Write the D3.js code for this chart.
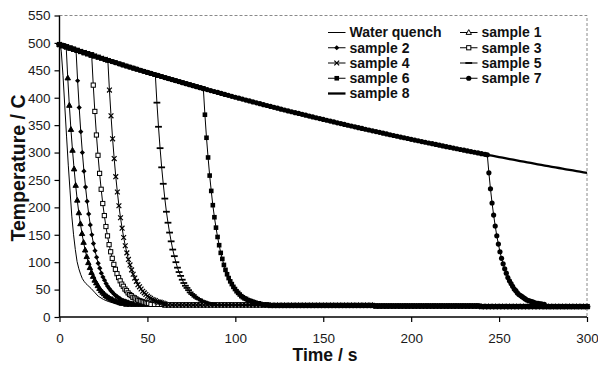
<!DOCTYPE html>
<html>
<head>
<meta charset="utf-8">
<script src="https://cdn.jsdelivr.net/npm/d3@7"></script>
<style>
  html, body { margin: 0; padding: 0; background: #fff; }
  svg { display: block; font-family: "Liberation Sans", Arial, Helvetica, sans-serif; }
</style>
</head>
<body>
<svg id="chart" width="598" height="367"></svg>
<script>
// ---- data -------------------------------------------------------------
const seriesNames = ["Water quench", "sample 1", "sample 2", "sample 3", "sample 4",
                     "sample 5", "sample 6", "sample 7", "sample 8"];
const xTicks = [0, 50, 100, 150, 200, 250, 300];
const yTicks = [0, 50, 100, 150, 200, 250, 300, 350, 400, 450, 500, 550];

// slow air cooling before quench, logged every 2 s from t = 0 to 300 s (C)
const airStep = 2;
const airCoolTemp = [
  497.0, 494.9, 492.8, 490.6, 488.5, 486.4, 484.3, 482.2, 480.2, 478.1,
  476.0, 474.0, 472.0, 469.9, 467.9, 465.9, 463.9, 461.9, 459.9, 457.9,
  455.9, 454.0, 452.0, 450.1, 448.1, 446.2, 444.3, 442.4, 440.6, 438.7,
  436.8, 434.9, 433.1, 431.2, 429.4, 427.5, 425.7, 423.9, 422.0, 420.2,
  418.4, 416.6, 414.9, 413.1, 411.4, 409.6, 407.9, 406.1, 404.4, 402.6,
  400.9, 399.2, 397.5, 395.8, 394.1, 392.4, 390.7, 389.1, 387.4, 385.8,
  384.1, 382.5, 380.9, 379.2, 377.6, 376.0, 374.4, 372.8, 371.3, 369.7,
  368.1, 366.6, 365.0, 363.5, 361.9, 360.4, 358.9, 357.4, 355.8, 354.3,
  352.8, 351.3, 349.8, 348.4, 346.9, 345.4, 344.0, 342.5, 341.1, 339.6,
  338.2, 336.8, 335.4, 333.9, 332.5, 331.1, 329.7, 328.3, 327.0, 325.6,
  324.2, 322.8, 321.5, 320.1, 318.8, 317.4, 316.1, 314.8, 313.4, 312.1,
  310.8, 309.5, 308.2, 306.9, 305.6, 304.3, 303.0, 301.8, 300.5, 299.3,
  298.0, 296.8, 295.5, 294.3, 293.0, 291.8, 290.6, 289.4, 288.1, 286.9,
  285.7, 284.5, 283.3, 282.2, 281.0, 279.8, 278.6, 277.5, 276.3, 275.2,
  274.0, 272.9, 271.8, 270.6, 269.5, 268.4, 267.3, 266.2, 265.1, 264.0,
  262.9
];

// bath temperature once quenched, logged every 2 s from t = 38 s to 300 s (C)
const bathStart = 38;
const bathTemp = [
  23, 23, 23, 23, 23, 23, 23, 23, 23, 23, 23,
  22, 22, 22, 22, 22, 22, 22, 22, 22, 22, 22, 22, 22, 22, 22,
  22, 22, 22, 22, 22, 22, 22, 22, 22, 22, 22, 22, 22, 22, 22,
  21, 21, 21, 21, 21, 21, 21, 21, 21, 21, 21, 21, 21, 21, 21,
  21, 21, 21, 21, 21, 21, 21, 21, 21, 21, 21, 21, 21, 21, 21,
  20, 20, 20, 20, 20, 20, 20, 20, 20, 20, 20, 20, 20, 20, 20,
  20, 20, 20, 20, 20, 20, 20, 20, 20, 20, 20, 20, 20, 20, 20,
  19, 19, 19, 19, 19, 19, 19, 19, 19, 19, 19, 19, 19, 19, 19, 19,
  19, 19, 19, 19, 19, 19, 19, 19, 19, 19, 19, 19, 19, 19, 19
];

// quench phase: start time (s) of each sample, then readings every 0.9 s (C)
const quenchStep = 0.9;
const quenchTimes = [3.8, 9.4, 18.3, 27.5, 54.5, 81.8, 243.3];
const sample1Quench = [493, 436, 386, 342, 304, 270, 240, 213, 190, 170, 152, 136, 122, 110, 99, 90, 81, 74, 67,
                       62, 57, 52, 48, 45, 42, 39, 37, 35, 33, 32, 30, 29, 28, 27, 26, 25, 25];
const sample2Quench = [487, 431, 382, 338, 300, 266, 237, 211, 188, 168, 150, 134, 121, 109, 98, 89, 80, 73, 67,
                       61, 56, 52, 48, 45, 42, 39, 37, 35, 33, 31, 30, 29, 28, 27, 26, 25, 25];
const sample3Quench = [478, 423, 375, 332, 295, 262, 233, 207, 185, 165, 148, 132, 119, 107, 96, 87, 79, 72, 66,
                       60, 56, 51, 48, 44, 41, 39, 36, 35, 33, 31, 30, 29, 28, 27, 26, 25, 25];
const sample4Quench = [468, 414, 367, 325, 289, 256, 228, 203, 181, 162, 145, 130, 117, 105, 95, 86, 78, 71, 65,
                       59, 55, 51, 47, 44, 41, 38, 36, 34, 32, 31, 30, 28, 27, 27, 26, 25, 24];
const sample5Quench = [442, 391, 347, 308, 273, 243, 216, 192, 172, 154, 138, 123, 111, 100, 90, 82, 75, 68, 62,
                       57, 53, 49, 45, 42, 40, 37, 35, 33, 32, 30, 29, 28, 27, 26, 25, 25, 24];
const sample6Quench = [417, 369, 327, 291, 258, 230, 204, 182, 163, 146, 131, 117, 106, 95, 86, 78, 71, 65, 60,
                       55, 51, 47, 44, 41, 38, 36, 34, 33, 31, 30, 29, 28, 27, 26, 25, 25, 24];
const sample7Quench = [296, 263, 234, 208, 186, 166, 148, 133, 119, 107, 97, 88, 80, 72, 66, 61, 56, 51, 48,
                       44, 41, 39, 37, 35, 33, 31, 30, 29, 28, 27, 26, 25, 25, 24, 24, 23, 23];

// direct water quench from 497 C
const waterTime = [0, 0.5, 1, 2, 3, 4, 5, 6, 7, 8, 9, 10, 11, 12, 13, 14, 15, 16, 18, 20, 22, 25, 28, 32, 36];
const waterTemp = [497, 494, 485, 440, 385, 330, 277, 230, 184, 150, 123, 101, 88, 78, 70, 65, 61, 58, 52,
                   45, 38, 32, 28, 25, 23];

// ---- assemble series ----------------------------------------------------
const airPoints = airCoolTemp.map((T, i) => [i * airStep, T]);
const bathPoints = bathTemp.map((T, i) => [bathStart + i * airStep, T]);

function quenchedSeries(tq, quench) {
  const tEnd = tq + (quench.length - 1) * quenchStep;
  return [
    ...airPoints.filter(p => p[0] < tq),
    ...quench.map((T, i) => [tq + i * quenchStep, T]),
    ...bathPoints.filter(p => p[0] > tEnd)
  ];
}

const waterPoints = [
  ...waterTime.map((t, i) => [t, waterTemp[i]]),
  ...bathPoints.filter(p => p[0] > waterTime[waterTime.length - 1])
];

const quenchData = [sample1Quench, sample2Quench, sample3Quench, sample4Quench,
                    sample5Quench, sample6Quench, sample7Quench];
const markerTypes = ["triangle", "diamond", "squareOpen", "x", "dash", "square", "circle"];

const series = [
  { name: seriesNames[0], points: waterPoints, width: 1, marker: null }
];
quenchData.forEach((q, k) => series.push({
  name: seriesNames[k + 1], points: quenchedSeries(quenchTimes[k], q), width: 1, marker: markerTypes[k]
}));
series.push({ name: seriesNames[8], points: airPoints, width: 2.3, marker: null });

// ---- chart --------------------------------------------------------------
const svg = d3.select("#chart");
const plotLeft = 59.5, plotRight = 587, plotTop = 15.5, plotBottom = 317;

const x = d3.scaleLinear().domain([0, 300]).range([plotLeft, plotRight]);
const y = d3.scaleLinear().domain([0, 550]).range([plotBottom, plotTop]);

// plot-area border (top and right)
svg.append("path")
  .attr("d", `M${plotLeft},${plotTop}H${plotRight}V${plotBottom}`)
  .attr("fill", "none").attr("stroke", "#8a8a8a").attr("stroke-width", 1)
  .attr("stroke-dasharray", "3,2");

// marker shapes; the small triangles read as solid in the plot, open in the key
function drawMarker(sel, type, inKey) {
  switch (type) {
    case "triangle":
      sel.append("path").attr("d", "M0,-2.9L2.7,1.9L-2.7,1.9Z")
        .attr("fill", inKey ? "#fff" : "#000").attr("stroke", "#000").attr("stroke-width", 1);
      break;
    case "diamond":
      sel.append("path").attr("d", "M0,-2.6L2.6,0L0,2.6L-2.6,0Z").attr("fill", "#000");
      break;
    case "squareOpen":
      sel.append("rect").attr("x", -2.1).attr("y", -2.1).attr("width", 4.2).attr("height", 4.2)
        .attr("fill", "#fff").attr("stroke", "#000").attr("stroke-width", 1);
      break;
    case "x":
      sel.append("path").attr("d", "M-2.4,-2.4L2.4,2.4M-2.4,2.4L2.4,-2.4")
        .attr("stroke", "#000").attr("stroke-width", 1.2);
      break;
    case "dash":
      sel.append("path").attr("d", "M-3.4,0H3.4")
        .attr("stroke", "#000").attr("stroke-width", 1.8);
      break;
    case "square":
      sel.append("rect").attr("x", -2.3).attr("y", -2.3).attr("width", 4.6).attr("height", 4.6)
        .attr("fill", "#000");
      break;
    case "circle":
      sel.append("circle").attr("r", 2.6).attr("fill", "#000");
      break;
  }
}

const line = d3.line().x(d => x(d[0])).y(d => y(d[1]));
const plot = svg.append("g");

series.forEach(s => {
  const g = plot.append("g");
  g.append("path").datum(s.points).attr("d", line)
    .attr("fill", "none").attr("stroke", "#000").attr("stroke-width", s.width)
    .attr("stroke-linejoin", "round");
  if (s.marker) {
    g.selectAll("g.m").data(s.points).join("g").attr("class", "m")
      .attr("transform", d => `translate(${x(d[0])},${y(d[1])})`)
      .each(function () { drawMarker(d3.select(this), s.marker, false); });
  }
});

// axes
const xAxis = d3.axisBottom(x).tickValues(xTicks).tickSize(5).tickPadding(11);
const yAxis = d3.axisLeft(y).tickValues(yTicks).tickSize(5).tickPadding(4);

const gx = svg.append("g").attr("transform", `translate(0,${plotBottom})`).call(xAxis);
const gy = svg.append("g").attr("transform", `translate(${plotLeft},0)`).call(yAxis);
[gx, gy].forEach(g => {
  g.select(".domain").attr("stroke", "#000").attr("stroke-width", 1.4);
  g.selectAll(".tick line").attr("stroke", "#000").attr("stroke-width", 1.2);
  g.selectAll(".tick text").attr("fill", "#1a1a1a")
    .style("font-family", '"Liberation Sans", Arial, sans-serif').style("font-size", "13.5px");
});
gx.select(".domain").attr("d", `M${plotLeft},0H${plotRight}`);
gy.select(".domain").attr("d", `M0,${plotBottom}V${plotTop}`);

// axis titles
svg.append("text").attr("x", 325).attr("y", 361)
  .attr("text-anchor", "middle").attr("font-weight", "bold").attr("font-size", 17.5)
  .attr("fill", "#111").text("Time / s");
svg.append("text").attr("transform", "translate(25,168) rotate(-90)")
  .attr("text-anchor", "middle").attr("font-weight", "bold").attr("font-size", 19.5)
  .attr("fill", "#111").text("Temperature / C");

// legend: two columns, water quench first
const legendCols = [
  { x: 328, idx: [0, 2, 4, 6, 8] },
  { x: 460, idx: [1, 3, 5, 7] }
];
const legendTop = 37.3, legendRow = 15.25;
legendCols.forEach(col => {
  col.idx.forEach((si, r) => {
    const s = series[si];
    const g = svg.append("g").attr("transform", `translate(${col.x},${legendTop + r * legendRow})`);
    g.append("line").attr("x1", 0).attr("x2", 17.5).attr("y1", -4.8).attr("y2", -4.8)
      .attr("stroke", "#000").attr("stroke-width", s.width);
    if (s.marker) {
      const m = g.append("g").attr("transform", "translate(8.75,-4.8)");
      drawMarker(m, s.marker, true);
    }
    g.append("text").attr("x", 21.5).attr("y", 0)
      .attr("font-weight", "bold").attr("font-size", 14).attr("fill", "#111")
      .text(s.name);
  });
});
</script>
</body>
</html>
